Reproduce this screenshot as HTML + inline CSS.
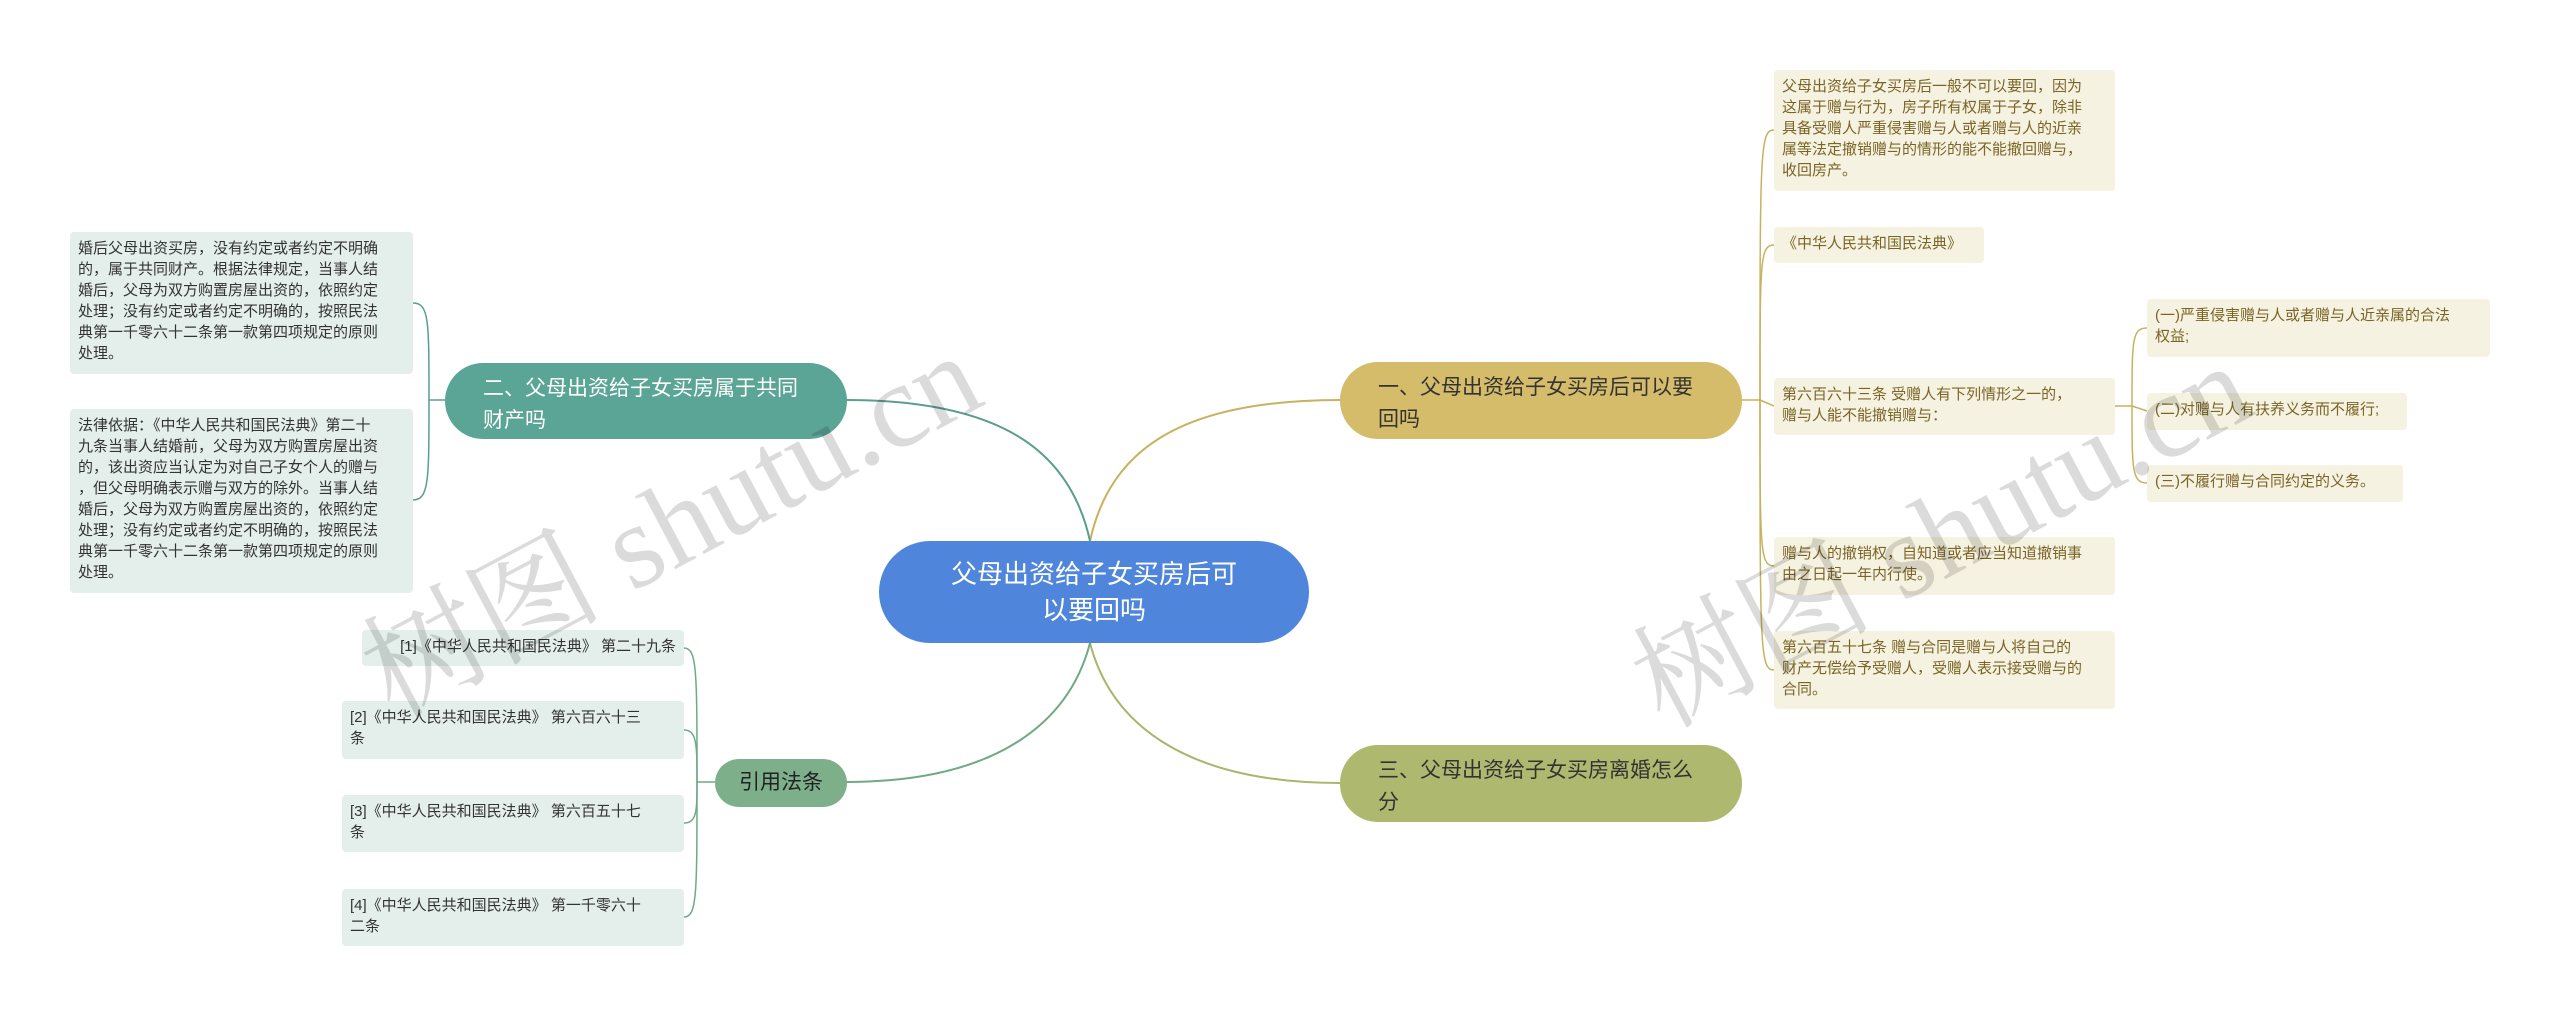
<!DOCTYPE html>
<html><head><meta charset="utf-8"><style>
body{margin:0;width:2560px;height:1017px;background:#fff;position:relative;overflow:hidden;font-family:"Liberation Sans","Noto Sans CJK SC",sans-serif}
.n{position:absolute;box-sizing:border-box}
.main{left:879px;top:541px;width:430px;height:102px;background:#4f86db;border-radius:51px;color:#fff;font-size:26px;line-height:36px;text-align:center;padding-top:15px}
.l1{border-radius:38px;font-size:21px;line-height:32px;padding:10px 0 0 38px;color:#333}
.tb{font-size:15px;line-height:21px;padding:6px 8px;border-radius:4px;white-space:nowrap}
.y{background:#f6f2e1;color:#7a6526}
.g{background:#e4efec;color:#333}
.wm{position:absolute;font-family:"Liberation Serif","Noto Serif CJK SC",serif;font-size:120px;color:rgba(0,0,0,0.14);transform:rotate(-28deg);white-space:nowrap;transform-origin:center}
</style></head><body>
<svg width="2560" height="1017" style="position:absolute;left:0;top:0" fill="none" stroke-width="2">
<path d="M1090,541 C1110,450 1180,400 1340,400" stroke="#c8b15f"/>
<path d="M1090,643 C1110,720 1180,783 1340,783" stroke="#aab46a"/>
<path d="M1090,541 C1070,450 1000,400 846,400" stroke="#5a9e8f"/>
<path d="M1090,643 C1070,720 1000,782 846,782" stroke="#6fa985"/>
<g stroke="#c8b15f" stroke-width="1.5">
<path d="M1740,400 L1760,400"/>
<path d="M1760,400 C1760,150 1760,130 1774,130"/>
<path d="M1760,400 C1760,260 1760,245 1774,245"/>
<path d="M1760,400 L1774,406"/>
<path d="M1760,400 C1760,550 1760,566 1774,566"/>
<path d="M1760,400 C1760,650 1760,670 1774,670"/>
<path d="M2115,406 L2132,406"/>
<path d="M2132,406 C2132,340 2132,328 2147,328"/>
<path d="M2132,406 L2147,411"/>
<path d="M2132,406 C2132,470 2132,483 2147,483"/>
</g>
<g stroke="#5a9e8f" stroke-width="1.5">
<path d="M445,400 L429,400"/>
<path d="M429,400 C429,320 429,303 413,303"/>
<path d="M429,400 C429,480 429,500 413,500"/>
</g>
<g stroke="#6fa985" stroke-width="1.5">
<path d="M715,782 L697,782"/>
<path d="M697,782 C697,670 697,648 684,648"/>
<path d="M697,782 C697,745 697,730 684,730"/>
<path d="M697,782 C697,810 697,823 684,823"/>
<path d="M697,782 C697,895 697,917 684,917"/>
</g>
</svg>
<div class="n main">父母出资给子女买房后可<br>以要回吗</div>
<div class="n l1" style="left:1340px;top:362px;width:402px;height:77px;background:#d4bc6a">一、父母出资给子女买房后可以要<br>回吗</div>
<div class="n l1" style="left:1340px;top:745px;width:402px;height:77px;background:#aeb96f">三、父母出资给子女买房离婚怎么<br>分</div>
<div class="n l1" style="left:445px;top:363px;width:402px;height:76px;background:#5aa596;color:#fff;border-radius:38px">二、父母出资给子女买房属于共同<br>财产吗</div>
<div class="n" style="left:715px;top:759px;width:132px;height:48px;background:#7db08a;border-radius:24px;color:#222;font-size:21px;line-height:48px;text-align:center">引用法条</div>

<div class="n tb y" style="left:1774px;top:70px;width:341px;height:121px">父母出资给子女买房后一般不可以要回，因为<br>这属于赠与行为，房子所有权属于子女，除非<br>具备受赠人严重侵害赠与人或者赠与人的近亲<br>属等法定撤销赠与的情形的能不能撤回赠与，<br>收回房产。</div>
<div class="n tb y" style="left:1774px;top:227px;width:210px;height:36px">《中华人民共和国民法典》</div>
<div class="n tb y" style="left:1774px;top:378px;width:341px;height:57px">第六百六十三条  受赠人有下列情形之一的，<br>赠与人能不能撤销赠与：</div>
<div class="n tb y" style="left:1774px;top:537px;width:341px;height:58px">赠与人的撤销权，自知道或者应当知道撤销事<br>由之日起一年内行使。</div>
<div class="n tb y" style="left:1774px;top:631px;width:341px;height:78px">第六百五十七条  赠与合同是赠与人将自己的<br>财产无偿给予受赠人，受赠人表示接受赠与的<br>合同。</div>
<div class="n tb y" style="left:2147px;top:299px;width:343px;height:58px">(一)严重侵害赠与人或者赠与人近亲属的合法<br>权益;</div>
<div class="n tb y" style="left:2147px;top:393px;width:260px;height:37px">(二)对赠与人有扶养义务而不履行;</div>
<div class="n tb y" style="left:2147px;top:465px;width:256px;height:37px">(三)不履行赠与合同约定的义务。</div>

<div class="n tb g" style="left:70px;top:232px;width:343px;height:142px">婚后父母出资买房，没有约定或者约定不明确<br>的，属于共同财产。根据法律规定，当事人结<br>婚后，父母为双方购置房屋出资的，依照约定<br>处理；没有约定或者约定不明确的，按照民法<br>典第一千零六十二条第一款第四项规定的原则<br>处理。</div>
<div class="n tb g" style="left:70px;top:409px;width:343px;height:184px">法律依据：《中华人民共和国民法典》第二十<br>九条当事人结婚前，父母为双方购置房屋出资<br>的，该出资应当认定为对自己子女个人的赠与<br>，但父母明确表示赠与双方的除外。当事人结<br>婚后，父母为双方购置房屋出资的，依照约定<br>处理；没有约定或者约定不明确的，按照民法<br>典第一千零六十二条第一款第四项规定的原则<br>处理。</div>
<div class="n tb g" style="left:362px;top:630px;width:322px;height:36px;text-align:right">[1]《中华人民共和国民法典》 第二十九条</div>
<div class="n tb g" style="left:342px;top:701px;width:342px;height:58px">[2]《中华人民共和国民法典》 第六百六十三<br>条</div>
<div class="n tb g" style="left:342px;top:795px;width:342px;height:57px">[3]《中华人民共和国民法典》 第六百五十七<br>条</div>
<div class="n tb g" style="left:342px;top:889px;width:342px;height:57px">[4]《中华人民共和国民法典》 第一千零六十<br>二条</div>

<div class="wm" style="left:330px;top:430px">树图 shutu.cn</div>
<div class="wm" style="left:1600px;top:440px">树图 shutu.cn</div>
</body></html>
